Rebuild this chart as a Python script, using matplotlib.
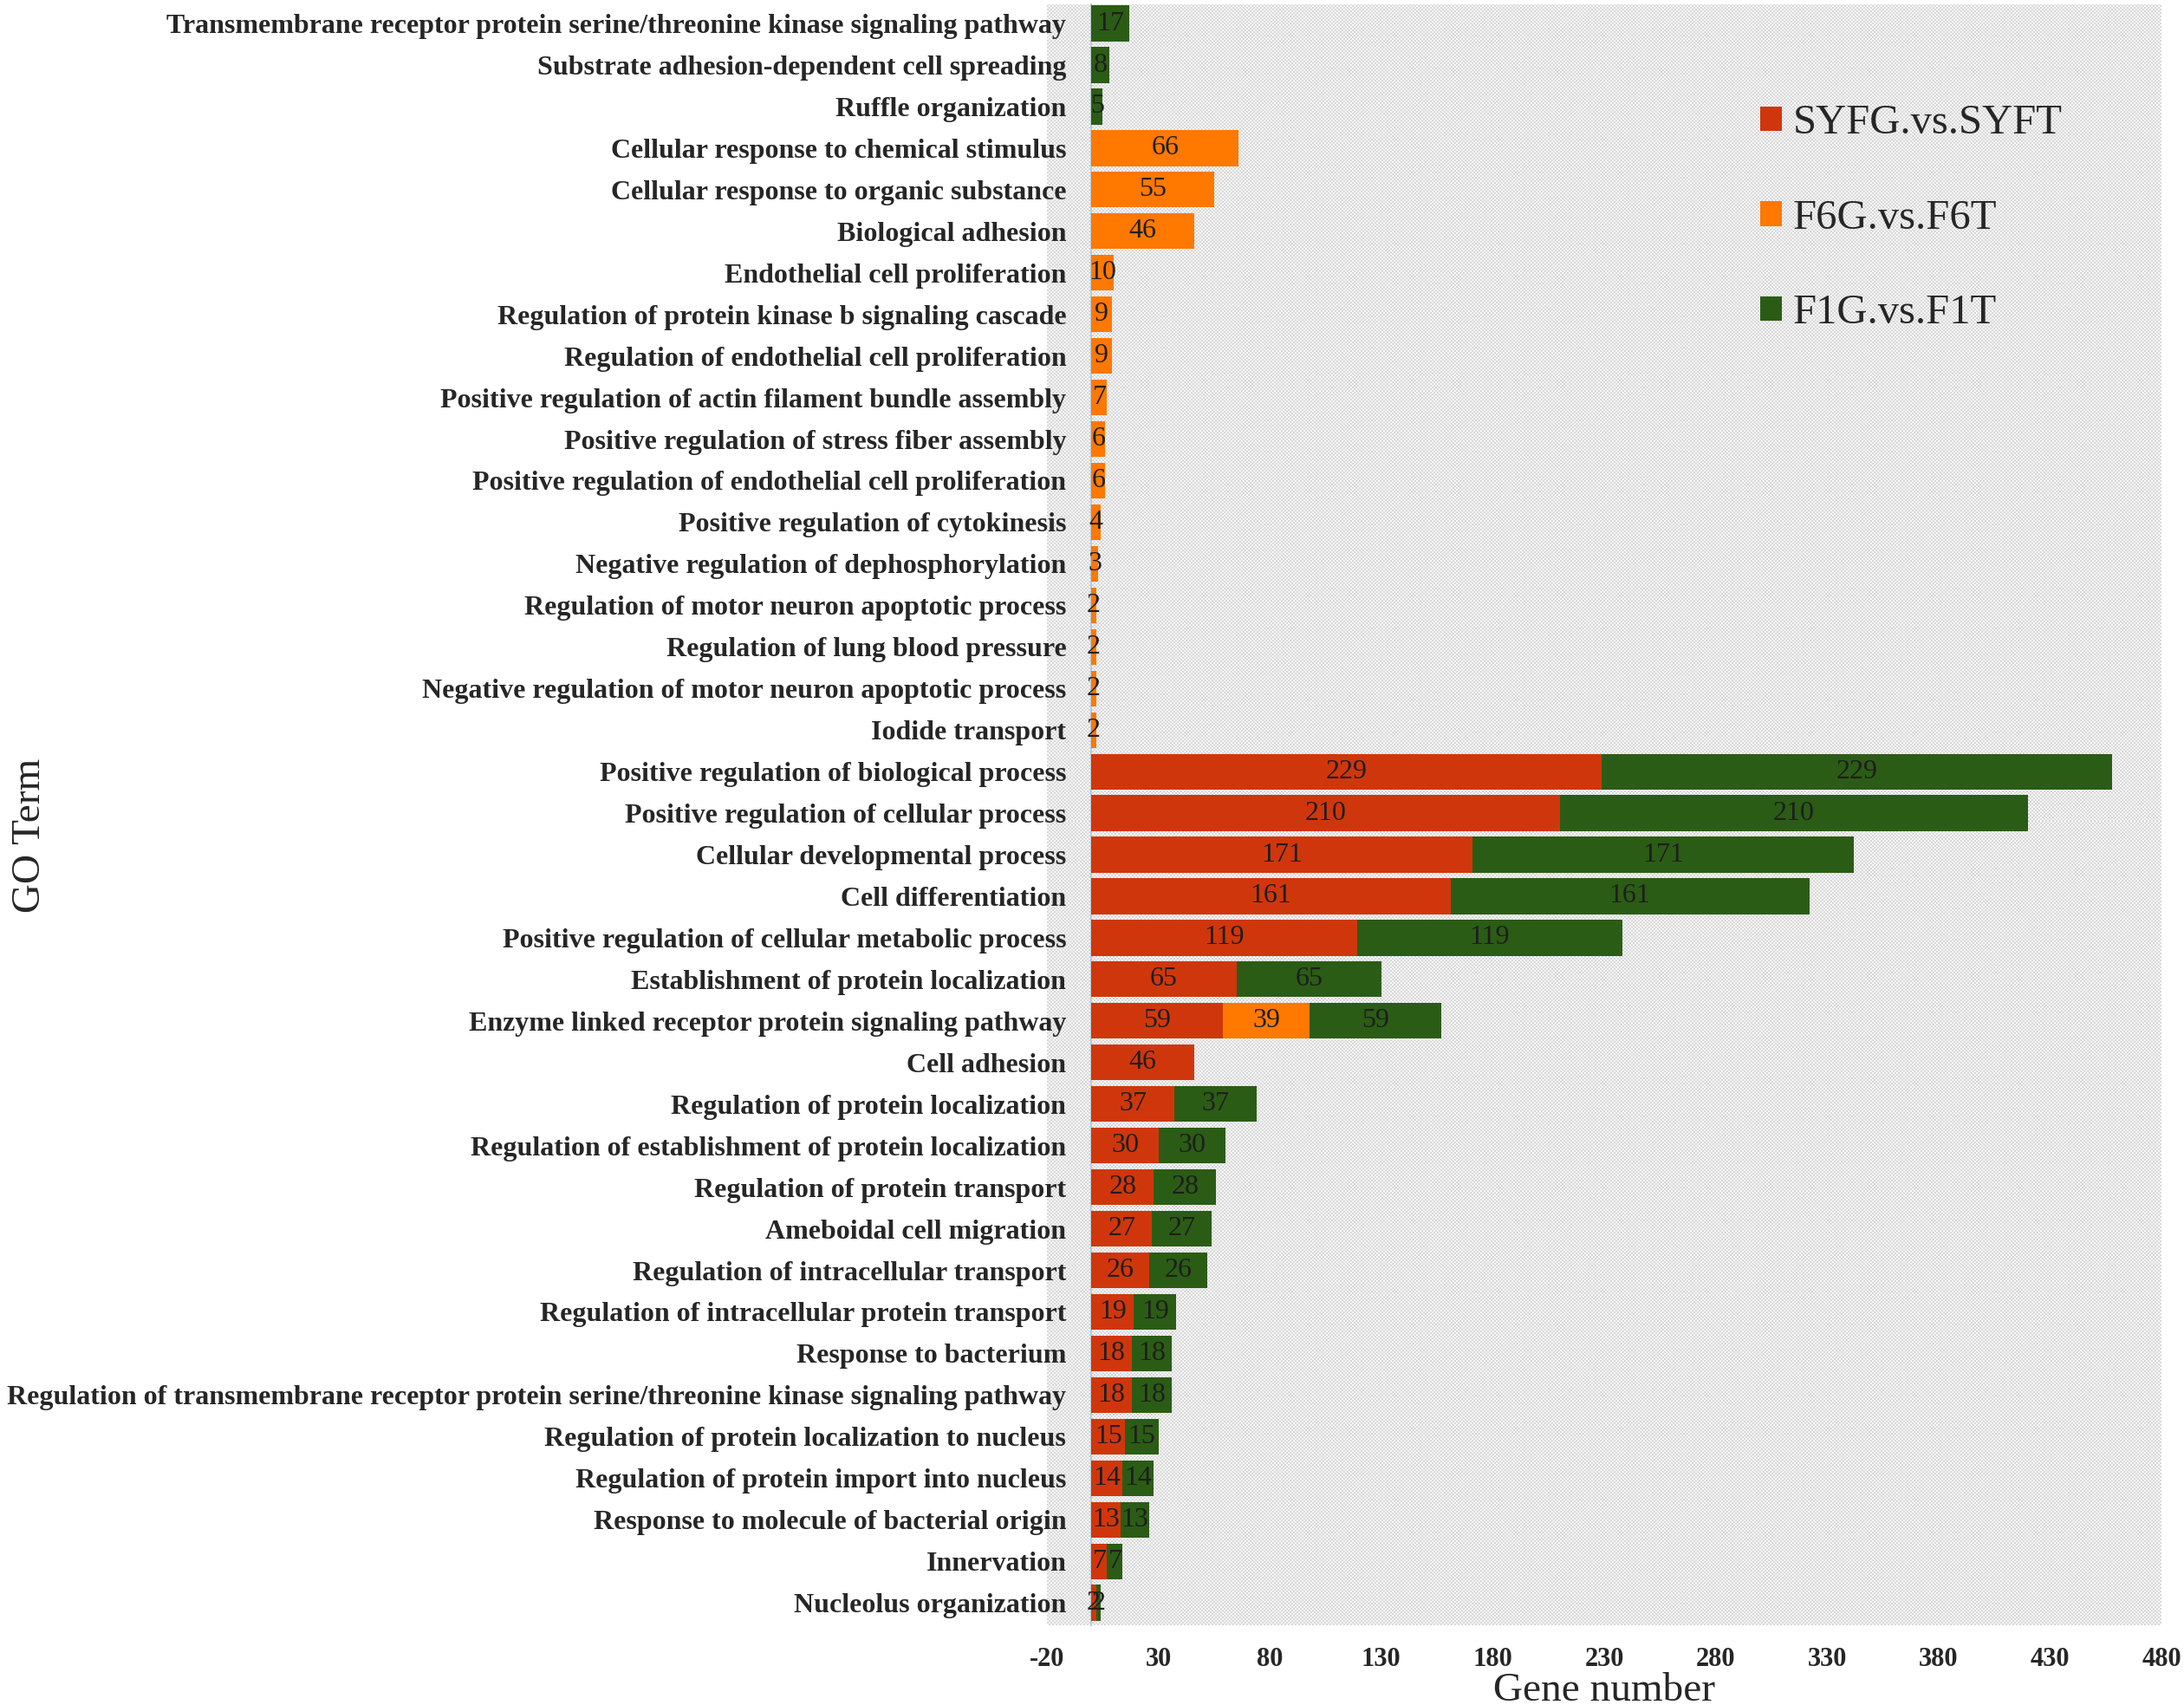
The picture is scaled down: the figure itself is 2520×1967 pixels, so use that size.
import numpy as np
import matplotlib
matplotlib.use('Agg')
import matplotlib.pyplot as plt

plt.rcParams['font.family'] = ['Liberation Serif', 'DejaVu Serif']

# GO terms, top to bottom
terms = [
    'Transmembrane receptor protein serine/threonine kinase signaling pathway',
    'Substrate adhesion-dependent cell spreading',
    'Ruffle organization',
    'Cellular response to chemical stimulus',
    'Cellular response to organic substance',
    'Biological adhesion',
    'Endothelial cell proliferation',
    'Regulation of protein kinase b signaling cascade',
    'Regulation of endothelial cell proliferation',
    'Positive regulation of actin filament bundle assembly',
    'Positive regulation of stress fiber assembly',
    'Positive regulation of endothelial cell proliferation',
    'Positive regulation of cytokinesis',
    'Negative regulation of dephosphorylation',
    'Regulation of motor neuron apoptotic process',
    'Regulation of lung blood pressure',
    'Negative regulation of motor neuron apoptotic process',
    'Iodide transport',
    'Positive regulation of biological process',
    'Positive regulation of cellular process',
    'Cellular developmental process',
    'Cell differentiation',
    'Positive regulation of cellular metabolic process',
    'Establishment of protein localization',
    'Enzyme linked receptor protein signaling pathway',
    'Cell adhesion',
    'Regulation of protein localization',
    'Regulation of establishment of protein localization',
    'Regulation of protein transport',
    'Ameboidal cell migration',
    'Regulation of intracellular transport',
    'Regulation of intracellular protein transport',
    'Response to bacterium',
    'Regulation of transmembrane receptor protein serine/threonine kinase signaling pathway',
    'Regulation of protein localization to nucleus',
    'Regulation of protein import into nucleus',
    'Response to molecule of bacterial origin',
    'Innervation',
    'Nucleolus organization',
]

syfg = [0, 0, 0, 0, 0, 0, 0, 0, 0, 0, 0, 0, 0, 0, 0, 0, 0, 0,
        229, 210, 171, 161, 119, 65, 59, 46, 37, 30, 28, 27, 26, 19, 18, 18, 15, 14, 13, 7, 2]
f6g = [0, 0, 0, 66, 55, 46, 10, 9, 9, 7, 6, 6, 4, 3, 2, 2, 2, 2,
       0, 0, 0, 0, 0, 0, 39, 0, 0, 0, 0, 0, 0, 0, 0, 0, 0, 0, 0, 0, 0]
f1g = [17, 8, 5, 0, 0, 0, 0, 0, 0, 0, 0, 0, 0, 0, 0, 0, 0, 0,
       229, 210, 171, 161, 119, 65, 59, 0, 37, 30, 28, 27, 26, 19, 18, 18, 15, 14, 13, 7, 2]

series = ['SYFG.vs.SYFT', 'F6G.vs.F6T', 'F1G.vs.F1T']
colors = ['#d0360c', '#ff7800', '#2b5c15']
xticks = [-20, 30, 80, 130, 180, 230, 280, 330, 380, 430, 480]

W, H = 2520, 1967
fig = plt.figure(figsize=(W / 100, H / 100), dpi=100)
ax = fig.add_axes([1208 / W, 92 / H, 1286 / W, 1870 / H])

# y axis sits at x = 0, labels follow it
ax.spines['left'].set_position(('data', 0))
ax.spines['left'].set_color('#bccad6')
ax.spines['left'].set_linewidth(1.5)
ax.spines['left'].set_zorder(1)
for s in ['top', 'right', 'bottom']:
    ax.spines[s].set_visible(False)

y = np.arange(len(terms))

# checker background like the original
ax_w, ax_h = 1286, 1870
cell = 2
nx, ny = ax_w // cell, ax_h // cell
chk = (np.add.outer(np.arange(ny), np.arange(nx)) % 2).astype(float)
ax.imshow(chk, cmap=matplotlib.colors.ListedColormap(['#f6f6f6', '#d9d9d9']),
          extent=(-20, 480, len(terms) - 0.46, -0.46), aspect='auto',
          interpolation='nearest', zorder=0)

left = np.zeros(len(terms))
handles = []
for vals, col, name in zip([syfg, f6g, f1g], colors, series):
    vals = np.array(vals, dtype=float)
    b = ax.barh(y, vals, left=left, height=0.86, color=col, label=name, zorder=2)
    handles.append(b)
    for yi, (l, v) in enumerate(zip(left, vals)):
        if v > 0:
            ax.text(l + v / 2, yi, '%d' % v, ha='center', va='center',
                    fontsize=23, color='#1e1e1e', zorder=3)
    left = left + vals

ax.set_xlim(-20, 480)
ax.set_ylim(len(terms) - 0.46, -0.46)

ax.set_xticks(xticks)
ax.set_xticklabels([str(t) for t in xticks], fontsize=22, fontweight='bold', color='#262626')
ax.set_yticks(y)
ax.set_yticklabels(terms, fontsize=23, fontweight='bold', color='#262626')
ax.tick_params(axis='both', length=0)
ax.tick_params(axis='y', pad=21)
ax.tick_params(axis='x', pad=18)

ax.set_xlabel('Gene number', fontsize=34, color='#262626', labelpad=0)
fig.text(35 / W, 1 - 964 / H, 'GO Term', rotation=90, ha='center', va='center',
         fontsize=34, color='#262626')

leg = ax.legend(handles=handles, loc='upper left', bbox_to_anchor=(2031 / W, 1 - 120 / H),
                bbox_transform=fig.transFigure, frameon=False, fontsize=35,
                handlelength=0.52, handleheight=0.52, handletextpad=0.25,
                labelspacing=1.35, borderpad=0, borderaxespad=0)
for t in leg.get_texts():
    t.set_color('#262626')

fig.savefig('out.png', dpi=100)
